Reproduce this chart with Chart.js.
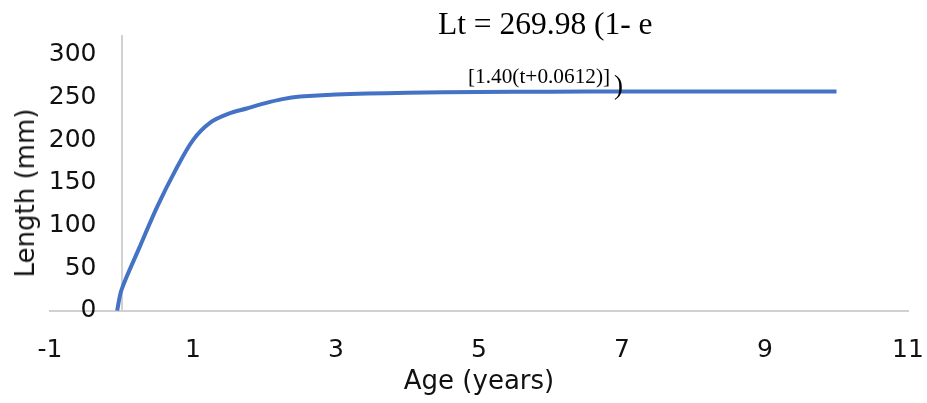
<!DOCTYPE html>
<html>
<head>
<meta charset="utf-8">
<script src="https://cdn.jsdelivr.net/npm/chart.js@4/dist/chart.umd.min.js"></script>
<style>
  html, body { margin: 0; padding: 0; background: #fff; }
  #wrap { position: relative; width: 927px; height: 403px; }
  .note { position: absolute; font-family: "Liberation Serif", "Times New Roman", serif; color: #000; white-space: nowrap; line-height: 1; }
  #ytitle { position: absolute; font-family: "DejaVu Sans", Verdana, sans-serif; font-size: 26px; color: #111;
            left: 25px; top: 193px; transform: translate(-50%, -50%) rotate(-90deg); white-space: nowrap; }
</style>
</head>
<body>
<div id="wrap">
  <canvas id="growth" width="927" height="403"></canvas>
  <div class="note" style="left:438px; top:8px; font-size:31.5px;">Lt = 269.98 (1- e</div>
  <div class="note" style="left:468px; top:66px; font-size:21.3px;">[1.40(t+0.0612)]</div>
  <div class="note" style="left:614px; top:72px; font-size:27px;">)</div>
  <div id="ytitle">Length (mm)</div>
</div>
<script>
// von Bertalanffy curve
const ages    = [-0.0612, 0, 0.25, 0.5, 0.75, 1, 1.25, 1.5, 1.75, 2, 2.25, 2.5, 3, 4, 5, 6, 7, 8, 9, 10];
const lengths = [0, 24.6, 74, 122, 164, 200, 221, 231, 237, 243, 248, 251, 253.5, 255.5, 256.3, 256.7, 257, 257, 257, 257];
const xTicks  = [-1, 1, 3, 5, 7, 9, 11];
const yTicks  = [0, 50, 100, 150, 200, 250, 300];

const tickFont = { family: 'DejaVu Sans', size: 25 };
const titleFont = { family: 'DejaVu Sans', size: 26 };

const points = ages.map((a, i) => ({ x: a, y: lengths[i] }));

new Chart(document.getElementById('growth'), {
  type: 'line',
  data: {
    datasets: [{
      data: points,
      borderColor: '#4472C4',
      borderWidth: 4,
      pointRadius: 0,
      tension: 0.3,
      fill: false
    }]
  },
  options: {
    responsive: false,
    animation: false,
    layout: { padding: { left: 50, right: 19, top: 36, bottom: 5 } },
    plugins: { legend: { display: false }, tooltip: { enabled: false } },
    scales: {
      x: {
        type: 'linear',
        min: -1, max: 11,
        // ticks are not drawn (grid hidden) but their length spaces the labels
        grid: { display: false, drawTicks: true, tickLength: 25 },
        border: { display: true, color: '#d0d0d0', width: 2 },
        ticks: { stepSize: 2, padding: 0, color: '#111', font: tickFont, maxRotation: 0 },
        afterBuildTicks: s => { s.ticks = xTicks.map(v => ({ value: v })); },
        title: { display: true, text: 'Age (years)', color: '#111', font: titleFont, padding: { top: 1, bottom: 0 } }
      },
      y: {
        type: 'linear',
        position: { x: 0 },
        min: 0, max: 322,
        grid: { display: false, drawTicks: false },
        border: { display: true, color: '#d0d0d0', width: 2 },
        // axis crosses at x = 0, so keep a gap after the label
        ticks: { padding: 0, color: '#111', font: tickFont, callback: v => v + '\u2003' },
        afterBuildTicks: s => { s.ticks = yTicks.map(v => ({ value: v })); }
      }
    }
  }
});
</script>
</body>
</html>
